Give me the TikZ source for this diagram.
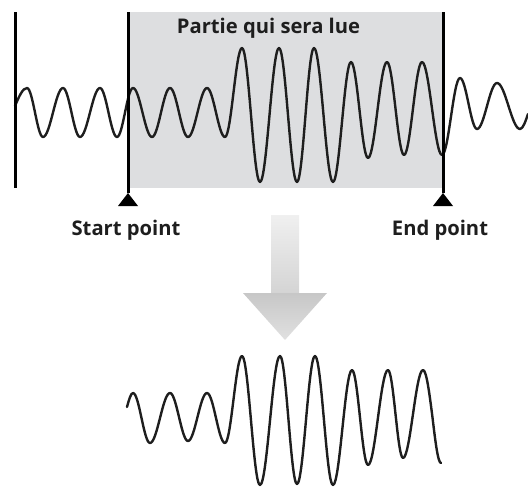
\documentclass[tikz,border=0pt]{standalone}
\usepackage{fontspec}
\setmainfont{Open Sans}
\definecolor{boxgrey}{RGB}{221,222,224}
\definecolor{ink}{RGB}{30,30,30}
\begin{document}
\begin{tikzpicture}[x=1pt,y=-1pt,
  wave/.style={draw=ink,line width=2.4pt,line join=round,line cap=round},
  marker/.style={draw=black,line width=3pt},
  tri/.style={fill=black},
  lbl/.style={font=\bfseries\fontsize{20.2}{23}\selectfont,text=ink,anchor=base,inner sep=0pt}]
\useasboundingbox (0,0) rectangle (528,488);
% grey region
\fill[boxgrey] (128,12) rectangle (443,188);
% top wave
\draw[wave] (15,106) sin (27,88)
  foreach \x/\y [remember=\x as \px (initially 27), remember=\y as \py (initially 88)] in
  {43/137,63/88,80/137,100/88,117/137,133/88,152/137,170/88,188/137,207/88,225/137,
   242/48,260/182,279/48,297/182,314/48,333/182,351/62,368/158,387/62,404/155,422/62,442/155,
   460/78,477/129,497/83,520/129}
  { cos ({(\px+\x)/2},{(\py+\y)/2}) sin (\x,\y) }
  cos (528,114);
% vertical markers
\coordinate (L1) at (15,12);  \coordinate (L2) at (15,188);
\coordinate (S1) at (128,12); \coordinate (S2) at (128,193);
\coordinate (E1) at (443,12); \coordinate (E2) at (443,193);
\draw[marker] (L1) -- (L2);
\draw[marker] (S1) -- (S2);
\draw[marker] (E1) -- (E2);
\fill[tri] (118,206) -- (138,206) -- (128,193) -- cycle;
\fill[tri] (433,206) -- (453,206) -- (443,193) -- cycle;
% labels
\node[lbl] (title) at (268.5,33) {Partie qui sera lue};
\node[lbl] (start) at (126,235) {Start point};
\node[lbl] (end) at (440,235) {End point};
% big arrow
\shade[top color=black!6,bottom color=black!17] (271,215) rectangle (299,294);
\shade[top color=black!22,bottom color=black!12] (243,293) -- (327,293) -- (285,340) -- cycle;
% bottom wave
\draw[wave] (127,407) sin (133,393)
  foreach \x/\y [remember=\x as \px (initially 133), remember=\y as \py (initially 393)] in
  {150/443,170/393,188/441,207/393,225/443,242/356,260/485,280/356,297/484,315/356,333/485,
   352/370,368/465,388/370,403/458,423/370}
  { cos ({(\px+\x)/2},{(\py+\y)/2}) sin (\x,\y) }
  cos (432.5,417.5) sin (441,463);
\end{tikzpicture}
\end{document}
